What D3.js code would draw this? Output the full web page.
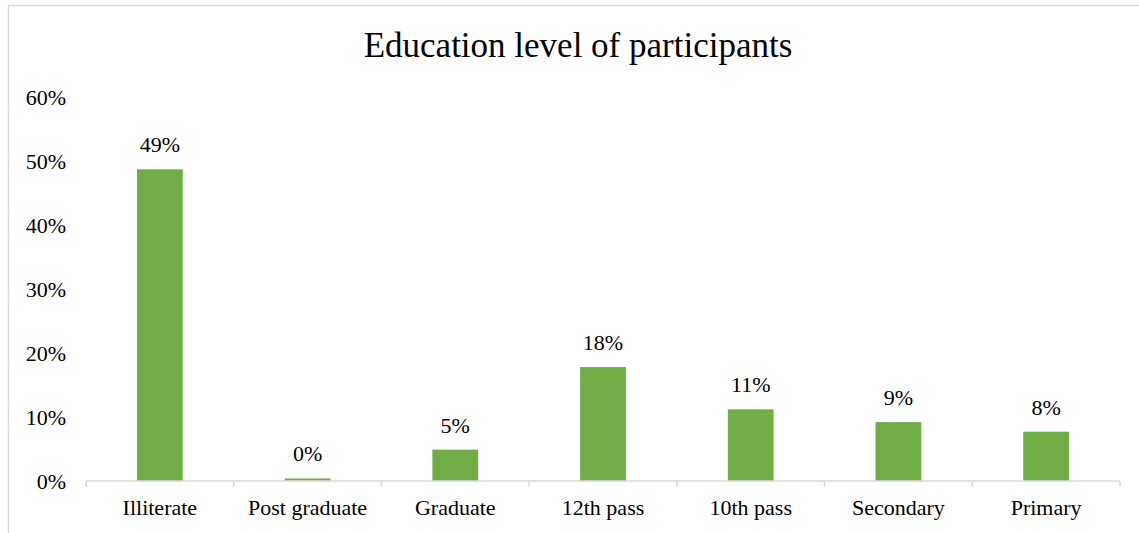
<!DOCTYPE html>
<html>
<head>
<meta charset="utf-8">
<script src="https://cdn.jsdelivr.net/npm/d3@7"></script>
<style>
  html, body { margin: 0; padding: 0; background: #fff; }
  text { font-family: "Liberation Serif", "Times New Roman", serif; fill: #000; }
</style>
</head>
<body>
<div id="chart"></div>
<script>
// chart data
const categories = ['Illiterate', 'Post graduate', 'Graduate', '12th pass', '10th pass', 'Secondary', 'Primary'];
const values     = [48.7, 0.4, 4.9, 17.8, 11.2, 9.2, 7.7];
const labels     = ['49%', '0%', '5%', '18%', '11%', '9%', '8%'];
const yTicks     = [0, 10, 20, 30, 40, 50, 60];

const W = 1139, H = 533;
const margin = { top: 97, right: 19, bottom: 52, left: 86 };
const width  = W - margin.left - margin.right;
const height = H - margin.top - margin.bottom;
const fontSize = '22px';

const svg = d3.select('#chart').append('svg')
  .attr('width', W)
  .attr('height', H);

// outer chart-area border (cut off on right/bottom like the reference)
svg.append('rect')
  .attr('x', 8.5).attr('y', 5.5)
  .attr('width', W + 20).attr('height', H + 20)
  .attr('fill', 'none')
  .attr('stroke', '#d9d9d9')
  .attr('stroke-width', 1.5);

svg.append('text')
  .attr('x', 578)
  .attr('y', 57)
  .attr('text-anchor', 'middle')
  .attr('font-size', '35px')
  .text('Education level of participants');

const g = svg.append('g')
  .attr('transform', `translate(${margin.left},${margin.top})`);

const x = d3.scaleBand()
  .domain(categories)
  .range([0, width])
  .paddingInner(0.69)
  .paddingOuter(0.345);

const y = d3.scaleLinear()
  .domain([0, 60])
  .range([height, 0]);

// bars
g.append('g')
  .selectAll('rect')
  .data(categories)
  .enter()
  .append('rect')
    .attr('x', d => x(d))
    .attr('y', (d, i) => y(values[i]))
    .attr('width', x.bandwidth())
    .attr('height', (d, i) => y(0) - y(values[i]))
    .attr('fill', '#70ad47');

// data labels
g.append('g')
  .selectAll('text')
  .data(categories)
  .enter()
  .append('text')
    .attr('x', d => x(d) + x.bandwidth() / 2)
    .attr('y', (d, i) => y(values[i]) - 17)
    .attr('text-anchor', 'middle')
    .attr('font-size', fontSize)
    .text((d, i) => labels[i]);

// y axis labels (no line)
g.append('g')
  .call(d3.axisLeft(y).tickValues(yTicks).tickSize(0).tickPadding(20).tickFormat(d => d + '%'))
  .call(a => a.select('.domain').remove())
  .call(a => a.selectAll('text')
    .attr('font-size', fontSize)
    .attr('fill', '#000'));

// x axis baseline with boundary ticks
const xAxis = g.append('g')
  .attr('transform', `translate(0,${height})`);

xAxis.append('line')
  .attr('x1', 0).attr('x2', width)
  .attr('stroke', '#d9d9d9')
  .attr('stroke-width', 1.5);

const step = x.step();
xAxis.selectAll('.tick-mark')
  .data(d3.range(categories.length + 1))
  .enter()
  .append('line')
    .attr('class', 'tick-mark')
    .attr('x1', i => x(categories[0]) - x.paddingOuter() * step + i * step)
    .attr('x2', i => x(categories[0]) - x.paddingOuter() * step + i * step)
    .attr('y1', 0).attr('y2', 6)
    .attr('stroke', '#d9d9d9')
    .attr('stroke-width', 1.5);

xAxis.selectAll('.cat')
  .data(categories)
  .enter()
  .append('text')
    .attr('class', 'cat')
    .attr('x', d => x(d) + x.bandwidth() / 2)
    .attr('y', 34)
    .attr('text-anchor', 'middle')
    .attr('font-size', fontSize)
    .text(d => d);
</script>
</body>
</html>
